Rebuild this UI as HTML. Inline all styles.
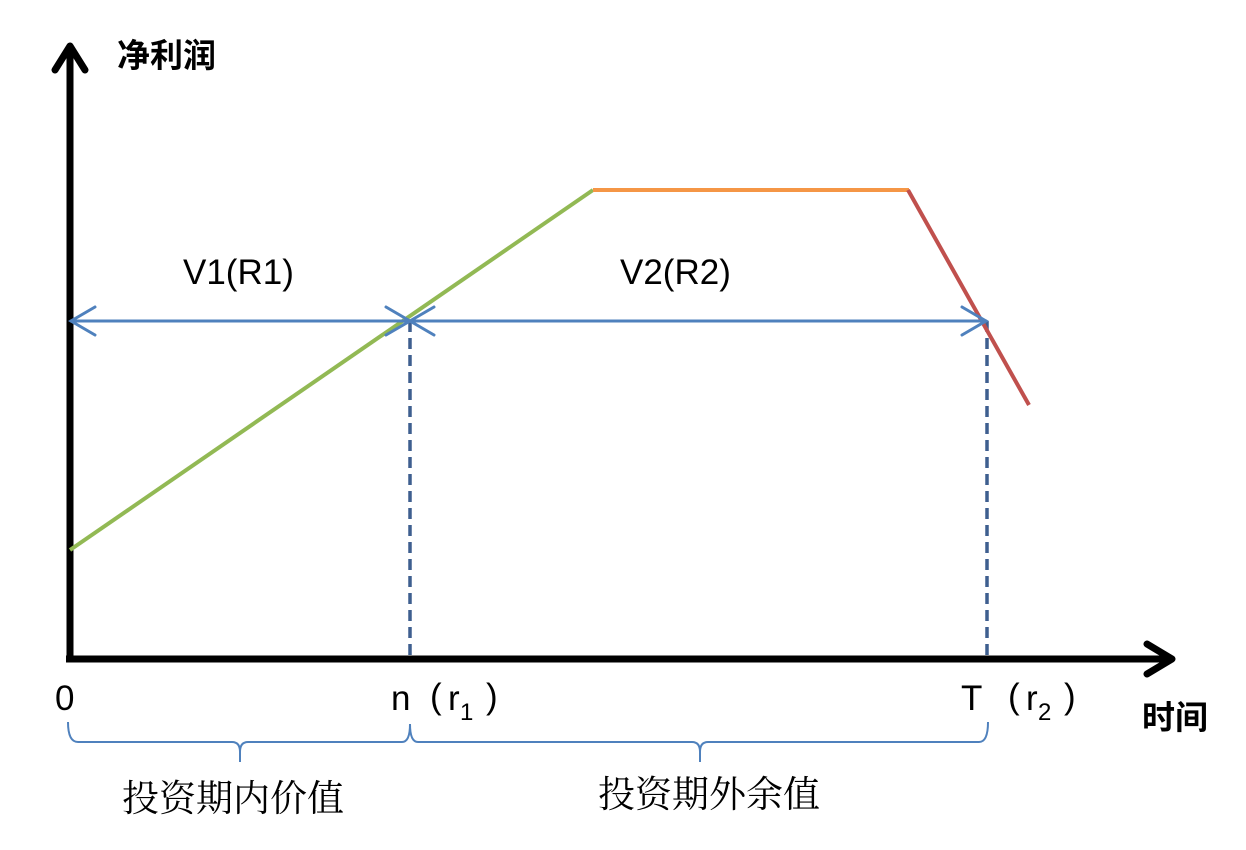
<!DOCTYPE html>
<html><head><meta charset="utf-8"><style>
html,body{margin:0;padding:0;background:#fff;}
svg{display:block;}
</style></head><body>
<svg width="1246" height="850" viewBox="0 0 1246 850" xmlns="http://www.w3.org/2000/svg">
<line x1="70" y1="46" x2="70" y2="660" stroke="#000" stroke-width="7"/>
<polyline points="55,70 70,46 85,70" fill="none" stroke="#000" stroke-width="7" stroke-linecap="round" stroke-linejoin="round"/>
<line x1="66" y1="659" x2="1172" y2="659" stroke="#000" stroke-width="7"/>
<polyline points="1147,644 1172,659 1147,674" fill="none" stroke="#000" stroke-width="7" stroke-linecap="round" stroke-linejoin="round"/>
<line x1="410" y1="321" x2="410" y2="656" stroke="#3e5f8f" stroke-width="3.5" stroke-dasharray="11,6"/>
<line x1="987" y1="321" x2="987" y2="656" stroke="#3e5f8f" stroke-width="3.5" stroke-dasharray="11,6"/>
<line x1="70" y1="550" x2="593" y2="190" stroke="#92b954" stroke-width="4"/>
<line x1="593" y1="190" x2="909" y2="190" stroke="#f59646" stroke-width="4"/>
<line x1="908" y1="190" x2="1029" y2="405" stroke="#c0504d" stroke-width="4"/>
<g stroke="#4f81bd" stroke-width="3" fill="none" stroke-linecap="round">
<line x1="71" y1="321" x2="986" y2="321"/>
<polyline points="95,307 71,321 95,335"/>
<polyline points="386,307 410,321 386,335"/>
<polyline points="434,307 410,321 434,335"/>
<polyline points="962,307 986,321 962,335"/>
</g>
<g stroke="#4f81bd" stroke-width="2" fill="none">
<path d="M68,722 Q68,742 78,742 L232,742 Q240,742 240,752 L240,762 M240,752 Q240,742 248,742 L402,742 Q410,742 410,724 Q410,742 418,742 L692,742 Q700,742 700,752 L700,762 M700,752 Q700,742 708,742 L979,742 Q988,742 988,722"/>
</g>
<g font-family="'Liberation Sans', sans-serif" font-size="35" fill="#000">
<text x="183" y="284">V1(R1)</text>
<text x="620" y="284">V2(R2)</text>
<text x="55" y="710">0</text>
<text x="391" y="710">n</text>
<text x="430" y="708" font-weight="300">(</text>
<text x="448" y="710">r</text>
<text x="460" y="720" font-size="24">1</text>
<text x="486" y="708">)</text>
<text x="961" y="710">T</text>
<text x="1008" y="708">(</text>
<text x="1026" y="710">r</text>
<text x="1038" y="720" font-size="24">2</text>
<text x="1064" y="708">)</text>
</g>
<g font-family="'Liberation Sans','Noto Sans CJK SC',sans-serif" font-weight="bold" font-size="33" fill="#000">
<text x="117" y="67">净利润</text>
<text x="1142" y="729">时间</text>
</g>
<g font-family="'Liberation Serif','Noto Serif CJK SC',serif" font-size="37" fill="#000">
<text x="122" y="811">投资期内价值</text>
<text x="598" y="807">投资期外余值</text>
</g>
</svg>
</body></html>
